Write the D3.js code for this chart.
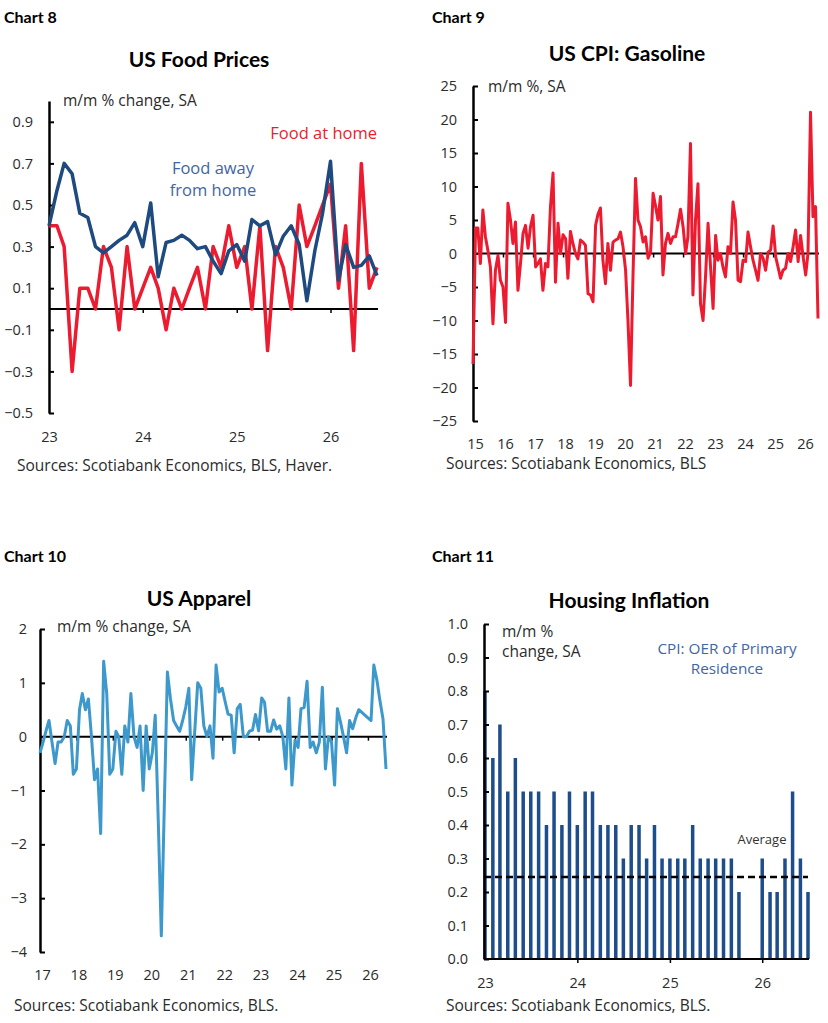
<!DOCTYPE html>
<html>
<head>
<meta charset="utf-8">
<script src="https://cdn.jsdelivr.net/npm/d3@7"></script>
<style>
    body { margin: 0; background: #fff; }
    svg text { font-family: "Open Sans", sans-serif; fill: #2b2b2b; }
    .head { font-family: Lato, sans-serif; font-weight: 700; fill: #000; }
</style>
</head>
<body>
<svg id="chart" width="828" height="1023"></svg>
<script>
// ---- Chart 8: US food prices, m/m % change, from Jan 2023
const foodStart = [2023, 0];
const foodAtHome = [0.4, 0.4, 0.3, -0.3, 0.1, 0.1, 0.0, 0.3, 0.2, -0.1, 0.3, 0.0,
    0.1, 0.2, 0.1, -0.1, 0.1, 0.0, 0.1, 0.2, 0.0, 0.3, 0.2, 0.4,
    0.2, 0.3, 0.0, 0.4, -0.2, 0.3, 0.2, 0.0, 0.5, 0.3, 0.4, 0.5,
    0.6, 0.1, 0.4, -0.2, 0.7, 0.1, 0.2];
const foodAway = [0.40, 0.57, 0.70, 0.65, 0.46, 0.44, 0.30, 0.27, 0.30, 0.33, 0.355, 0.415,
    0.30, 0.51, 0.155, 0.32, 0.33, 0.355, 0.33, 0.29, 0.30, 0.23, 0.17, 0.28,
    0.31, 0.23, 0.43, 0.40, 0.42, 0.26, 0.35, 0.40, 0.31, 0.04, 0.28, 0.46,
    0.71, 0.14, 0.31, 0.20, 0.21, 0.255, 0.16];
const foodTicks = [-0.5, -0.3, -0.1, 0.1, 0.3, 0.5, 0.7, 0.9];

// ---- Chart 9: US CPI gasoline, m/m %, from Jan 2015
const gasStart = [2015, 0];
const gasoline = [
    -16.5, 3.8, 3.8, -1.5, 6.5, 2.5, 0.5, -2, -10.5, -2.5, -0.3, -4,
    -5, -10.3, 7.5, 5, 1.5, 4.7, -5.5, -1.5, 3, 4.2, 0.8, 4,
    5.7, -2, -1.5, -0.8, -5.5, -1.5, -2, 7, 12, -4.3, 4.5, 0,
    2.8, 2.2, -3.7, 3.3, 1.5, 0, -0.8, 2, 1.7, 1.2, -6, -6.2,
    -7.2, 4.2, 5.8, 6.8, -1, -4.5, 1.5, -2.5, 1.7, 2, 2.2, 3.2,
    1, -2.5, -10, -19.7, -3.5, 11.2, 5, 4, 1.7, 2.5, -0.7, 0.2,
    9, 7, 5, 8.5, -3.2, 1.5, 3, 1.5, 2.5, 2.5, 4.5, 6.6,
    4, 0, 2.5, 16.4, -6.2, 5, 10.4, -7.5, -10, -3.5, 4.5, -2,
    -8.2, 2.7, -1, 0, -2, -3.5, 1, 0, 7.7, 5, -4, -4.2,
    -1, -1.2, 3.2, 1, -1, -2.5, -4, 0, -0.7, -2.5, 0.2, 0.5,
    4.1, -0.5, -2, -3.7, -2.5, -2.2, 0, -1.2, 1, 3.5, -1.2, 2.7,
    -0.5, -3.2, 0, 21.1, 5.5, 7, -9.7];
const gasTicks = [-25, -20, -15, -10, -5, 0, 5, 10, 15, 20, 25];

// ---- Chart 10: US apparel, m/m % change, from Jan 2017
const apparelStart = [2017, 0];
const apparel = [
    -0.3, -0.1, 0.1, 0.3, -0.1, -0.5, -0.1, -0.1, 0.0, 0.3, 0.2, -0.7,
    -0.6, 0.5, 0.8, 0.5, 0.7, 0.0, -0.8, -0.6, -1.8, 1.4, 0.8, -0.7,
    -0.6, 0.1, 0.0, -0.7, 0.2, -0.1, 0.8, 0.0, -0.2, 0.2, -1.0, 0.2,
    -0.6, -0.3, 0.4, -1.6, -3.7, -1.2, 1.2, 0.7, 0.3, 0.2, 0.1, 0.3,
    0.55, 0.9, -0.8, 0.1, 1.0, 0.9, 0.2, 0.0, 0.2, -0.4, 1.33, 0.83,
    0.9, 0.64, 0.42, 0.4, -0.3, 0.52, 0.6, 0.0, 0.0, 0.1, 0.12, 0.41,
    0.11, 0.72, 0.64, 0.1, 0.1, 0.31, 0.14, 0.2, 0.0, -0.6, 0.72, -0.9,
    -0.07, -0.2, 0.52, 0.54, 1.03, -0.2, -0.1, -0.3, -0.1, 0.92, -0.6, 0.0,
    -0.1, -0.9, 0.52, 0.27, 0.0, -0.3, 0.3, 0.15, 0.35, 0.5, 0.45, 0.4,
    0.35, 0.3, 1.33, 1.05, 0.67, 0.33, -0.6];
const apparelTicks = [-4, -3, -2, -1, 0, 1, 2];

// ---- Chart 11: CPI OER of primary residence, from Jan 2023 (two months not published)
const oerStart = [2023, 0];
const oer = [0.8, 0.6, 0.7, 0.5, 0.6, 0.5, 0.5, 0.5, 0.4, 0.5, 0.4, 0.5,
    0.4, 0.5, 0.5, 0.4, 0.4, 0.4, 0.3, 0.4, 0.4, 0.3, 0.4, 0.3,
    0.3, 0.3, 0.3, 0.4, 0.3, 0.3, 0.3, 0.3, 0.3, 0.2, null, null,
    0.3, 0.2, 0.2, 0.3, 0.5, 0.3, 0.2];
const oerAverage = 0.245;
const oerTicks = [0, 0.1, 0.2, 0.3, 0.4, 0.5, 0.6, 0.7, 0.8, 0.9, 1.0];

const RED = '#ec1b30';
const NAVY = '#1f4a80';
const LIGHTBLUE = '#3d98cc';
const BARBLUE = '#1d4d8a';
const LABELBLUE = '#3f66a3';

const svg = d3.select('#chart');

function monthDates(start, n) {
    return d3.range(n).map(i => new Date(start[0], start[1] + i, 1));
}

function years(y0, y1) {
    return d3.range(y0, y1 + 1).map(y => new Date(y, 0, 1));
}

function toSeries(start, values) {
    let dates = monthDates(start, values.length);
    return values.map((v, i) => ({date: dates[i], value: v}));
}

/**
 * Draw y axis, zero line with year ticks and year labels at the bottom
 */
function drawFrame(p) {
    let yAxis = svg.append('g')
        .attr('transform', `translate(${p.axisX},0)`)
        .call(d3.axisLeft(p.y)
            .tickValues(p.yTicks)
            .tickFormat(p.yFormat)
            .tickSizeInner(-5)
            .tickSizeOuter(0)
            .tickPadding(p.yPad));
    yAxis.select('.domain').attr('stroke', '#000').attr('stroke-width', 2.5);
    yAxis.selectAll('.tick line').attr('stroke', '#000').attr('stroke-width', 2);
    yAxis.selectAll('text')
        .attr('font-family', '"Open Sans", sans-serif')
        .attr('font-size', 14.5)
        .attr('fill', '#2b2b2b');

    let zero = svg.append('g')
        .attr('transform', `translate(0,${p.y(0)})`)
        .call(d3.axisBottom(p.x)
            .tickValues(p.yearTicks.slice(1))
            .tickFormat('')
            .tickSizeInner(4)
            .tickSizeOuter(0));
    zero.select('.domain').attr('stroke', '#000').attr('stroke-width', 2)
        .attr('d', `M${p.axisX},0H${p.x.range()[1] + 1}`);
    zero.selectAll('.tick line').attr('stroke', '#000').attr('stroke-width', 1.5);

    let xLabels = svg.append('g')
        .attr('transform', `translate(0,${p.y.range()[0]})`)
        .call(d3.axisBottom(p.x)
            .tickValues(p.yearTicks)
            .tickFormat(d3.timeFormat('%y'))
            .tickSize(0)
            .tickPadding(p.xPad));
    xLabels.select('.domain').remove();
    xLabels.selectAll('text')
        .attr('dx', p.labelDx || 0)
        .attr('font-family', '"Open Sans", sans-serif')
        .attr('font-size', 14.5)
        .attr('fill', '#2b2b2b');
}

function addText(x, y, str, opts = {}) {
    return svg.append('text')
        .attr('x', x)
        .attr('y', y)
        .attr('dy', '0.35em')
        .attr('text-anchor', opts.anchor || 'start')
        .attr('class', opts.cls || null)
        .style('font-size', (opts.size || 15.5) + 'px')
        .style('fill', opts.color || null)
        .text(str);
}

// ================= Chart 8 =================
{
    let home = toSeries(foodStart, foodAtHome);
    let away = toSeries(foodStart, foodAway);
    let x = d3.scaleTime()
        .domain(d3.extent(home, d => d.date))
        .range([49, 377]);
    let y = d3.scaleLinear().domain([-0.5, 1.0]).range([413, 101]);

    drawFrame({x, y, axisX: 49, yTicks: foodTicks, yFormat: d3.format('.1f'), yPad: 16,
        yearTicks: years(2023, 2026), xPad: 19});

    let line = d3.line().x(d => x(d.date)).y(d => y(d.value));
    svg.append('path').datum(home)
        .attr('d', line).attr('fill', 'none')
        .attr('stroke', RED).attr('stroke-width', 3.5).attr('stroke-linejoin', 'round');
    svg.append('path').datum(away)
        .attr('d', line).attr('fill', 'none')
        .attr('stroke', NAVY).attr('stroke-width', 3.5).attr('stroke-linejoin', 'round');

    addText(4, 17, 'Chart 8', {cls: 'head', size: 16});
    addText(199, 60, 'US Food Prices', {cls: 'head', anchor: 'middle', size: 21});
    addText(63, 101, 'm/m % change, SA');
    addText(377, 133, 'Food at home', {anchor: 'end', size: 16.5, color: RED});
    addText(213, 168, 'Food away', {anchor: 'middle', size: 16.5, color: LABELBLUE});
    addText(213, 190, 'from home', {anchor: 'middle', size: 16.5, color: LABELBLUE});
    addText(17, 466, 'Sources: Scotiabank Economics, BLS, Haver.');
}

// ================= Chart 9 =================
{
    let gas = toSeries(gasStart, gasoline);
    let x = d3.scaleTime()
        .domain(d3.extent(gas, d => d.date))
        .range([473, 818]);
    let y = d3.scaleLinear().domain([-25, 25]).range([421, 86]);

    drawFrame({x, y, axisX: 473, yTicks: gasTicks, yFormat: d3.format('d'), yPad: 16,
        yearTicks: years(2015, 2026), xPad: 18, labelDx: 2});

    let line = d3.line().x(d => x(d.date)).y(d => y(d.value));
    svg.append('path').datum(gas)
        .attr('d', line).attr('fill', 'none')
        .attr('stroke', RED).attr('stroke-width', 3).attr('stroke-linejoin', 'round');

    addText(432, 17, 'Chart 9', {cls: 'head', size: 16});
    addText(627, 54, 'US CPI: Gasoline', {cls: 'head', anchor: 'middle', size: 21});
    addText(488, 87, 'm/m %, SA');
    addText(446, 464, 'Sources: Scotiabank Economics, BLS');
}

// ================= Chart 10 =================
{
    let app = toSeries(apparelStart, apparel);
    let x = d3.scaleTime()
        .domain(d3.extent(app, d => d.date))
        .range([40, 386]);
    let y = d3.scaleLinear().domain([-4, 2]).range([952, 629]);

    drawFrame({x, y, axisX: 40, yTicks: apparelTicks, yFormat: d3.format('d'), yPad: 13,
        yearTicks: years(2017, 2026), xPad: 18, labelDx: 2});

    let line = d3.line().x(d => x(d.date)).y(d => y(d.value));
    svg.append('path').datum(app)
        .attr('d', line).attr('fill', 'none')
        .attr('stroke', LIGHTBLUE).attr('stroke-width', 3).attr('stroke-linejoin', 'round');

    addText(4, 556, 'Chart 10', {cls: 'head', size: 16});
    addText(199, 599, 'US Apparel', {cls: 'head', anchor: 'middle', size: 21});
    addText(57, 627, 'm/m % change, SA');
    addText(14, 1006, 'Sources: Scotiabank Economics, BLS.');
}

// ================= Chart 11 =================
{
    let bars = toSeries(oerStart, oer);
    let x = d3.scaleTime()
        .domain(d3.extent(bars, d => d.date))
        .range([485, 808]);
    let y = d3.scaleLinear().domain([0, 1]).range([959, 624]);
    let barW = 3.5;

    svg.append('g').selectAll('rect')
        .data(bars.filter(d => d.value !== null))
        .join('rect')
        .attr('x', d => x(d.date) - barW / 2)
        .attr('y', d => y(d.value))
        .attr('width', barW)
        .attr('height', d => y(0) - y(d.value))
        .attr('fill', BARBLUE);

    drawFrame({x, y, axisX: 484, yTicks: oerTicks, yFormat: d3.format('.1f'), yPad: 16,
        yearTicks: years(2023, 2026), xPad: 19});

    svg.append('line')
        .attr('x1', 484).attr('x2', x.range()[1])
        .attr('y1', y(oerAverage)).attr('y2', y(oerAverage))
        .attr('stroke', '#000').attr('stroke-width', 2.5)
        .attr('stroke-dasharray', '7,4');

    addText(432, 556, 'Chart 11', {cls: 'head', size: 16});
    addText(629, 601, 'Housing Inflation', {cls: 'head', anchor: 'middle', size: 21});
    addText(502, 632, 'm/m %');
    addText(502, 652, 'change, SA');
    addText(727, 649, 'CPI: OER of Primary', {anchor: 'middle', size: 15.3, color: LABELBLUE});
    addText(727, 669, 'Residence', {anchor: 'middle', size: 15.3, color: LABELBLUE});
    addText(762, 839, 'Average', {anchor: 'middle', size: 13, color: '#333'});
    addText(446, 1006, 'Sources: Scotiabank Economics, BLS.');
}
</script>
</body>
</html>
